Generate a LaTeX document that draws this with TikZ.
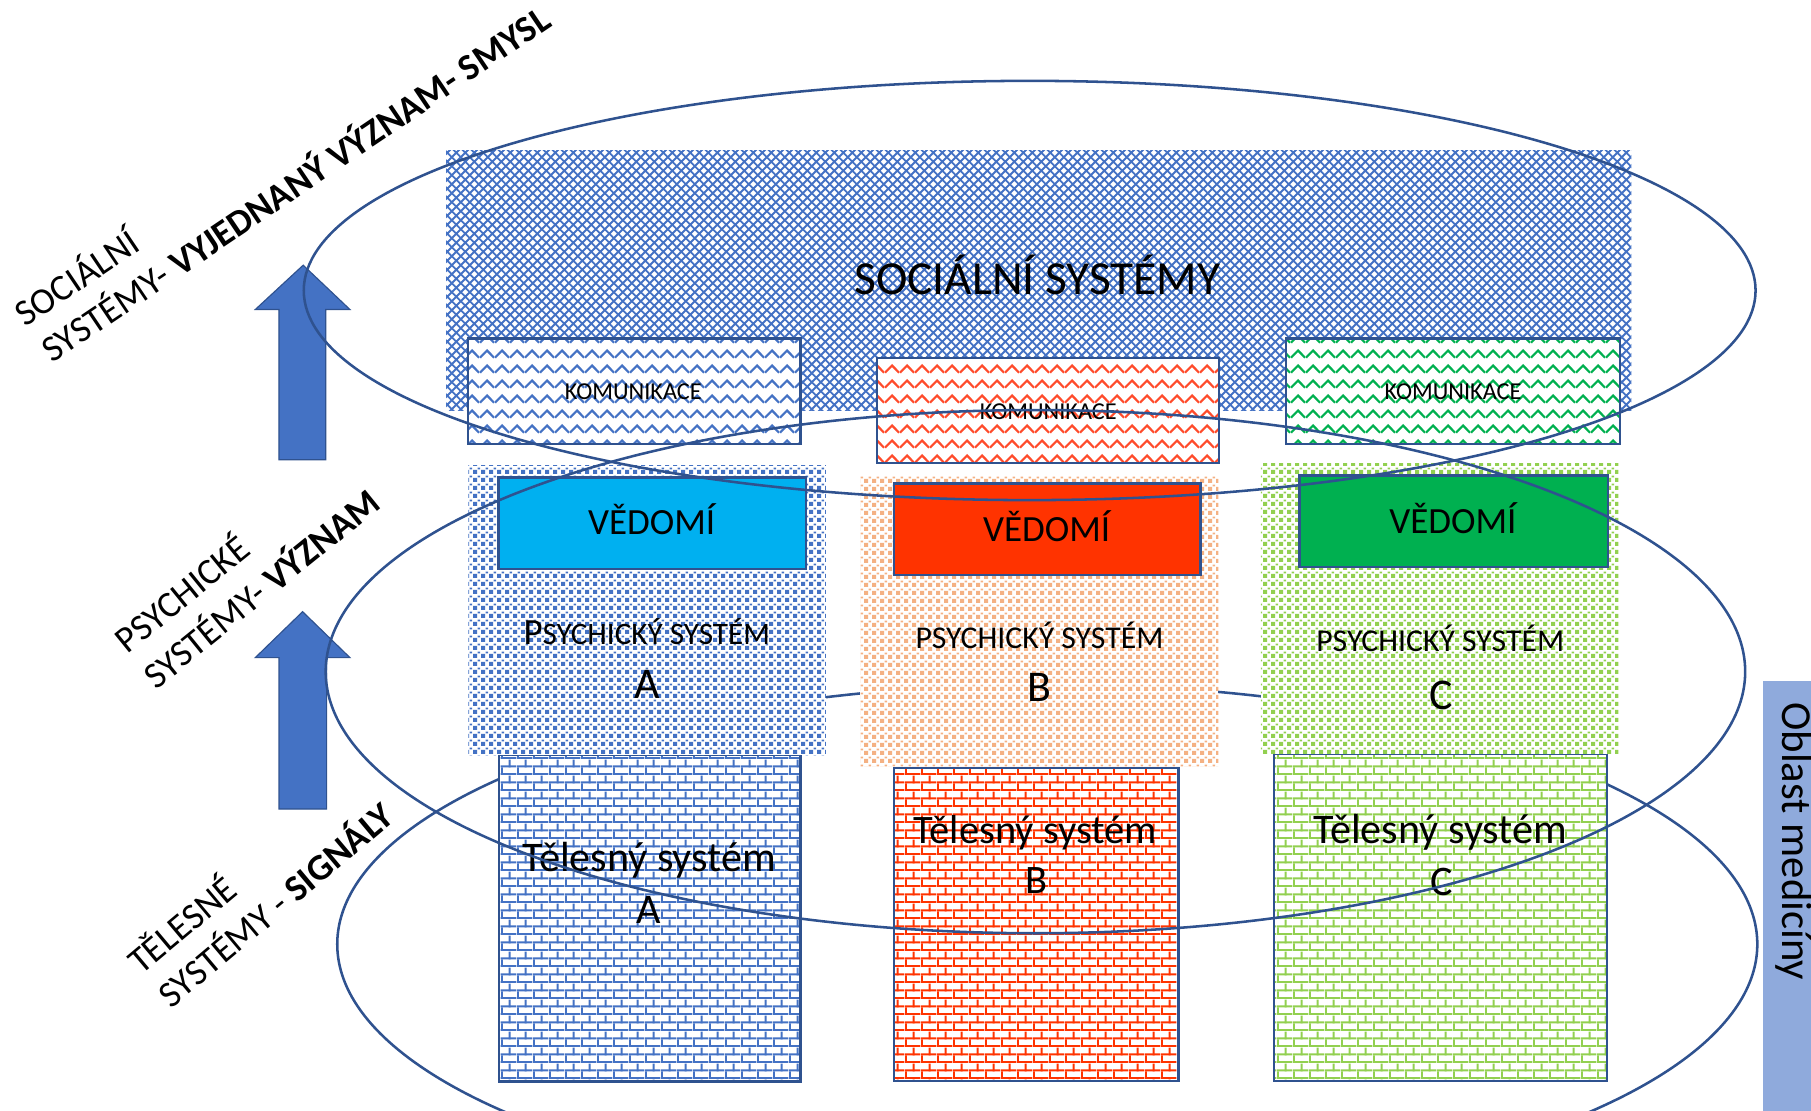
\documentclass[tikz,border=0pt]{standalone}
\usepackage{fontspec}
\setmainfont{Carlito}
\usetikzlibrary{patterns,patterns.meta,shapes.geometric}
\definecolor{bl}{HTML}{4472C4}
\definecolor{ol}{HTML}{2F528F}
\definecolor{cy}{HTML}{00B0F0}
\definecolor{rd}{HTML}{FF3300}
\definecolor{gr}{HTML}{00B050}
\definecolor{lg}{HTML}{92D050}
\definecolor{sa}{HTML}{F4B183}
\definecolor{ob}{HTML}{8FAADC}
\definecolor{zr}{HTML}{FF4B2B}
\newcommand{\fsz}[1]{\fontsize{#1}{#1}\selectfont}

\tikzdeclarepattern{
  name=zz, type=uncolored,
  bottom left={(0pt,0pt)}, top right={(13pt,13pt)},
  tile size={(13pt,13pt)},
  code={\tikzset{x=1pt,y=1pt}
    \draw[line width=2pt] (0,3) -- (6.5,9.6) -- (13,3);}
}
\tikzdeclarepattern{
  name=dia, type=uncolored,
  bottom left={(0pt,0pt)}, top right={(8pt,8pt)},
  tile size={(8pt,8pt)},
  code={\tikzset{x=1pt,y=1pt}
    \draw[line width=1.7pt] (-1,-1) -- (9,9) (-1,9) -- (9,-1);}
}
\tikzdeclarepattern{
  name=sq, type=uncolored,
  bottom left={(0pt,0pt)}, top right={(7.2pt,7.2pt)},
  tile size={(7.2pt,7.2pt)},
  code={\tikzset{x=1pt,y=1pt}
    \fill (0,0) rectangle (3.8,3.8);
    \fill (4.4,4.4) rectangle (6.6,6.0);}
}
\tikzdeclarepattern{
  name=brk, type=uncolored,
  bottom left={(0pt,0pt)}, top right={(14pt,14pt)},
  tile size={(14pt,14pt)},
  code={\tikzset{x=1pt,y=1pt}
    \fill (0,0) rectangle (14,1.8);
    \fill (0,7) rectangle (14,8.8);
    \fill (0,0) rectangle (1.8,7);
    \fill (7,7) rectangle (8.8,14);}
}

\begin{document}
\begin{tikzpicture}[x=1pt,y=-1pt,
  box/.style={inner sep=0pt, outer sep=0pt, anchor=north west},
  outl/.style={draw=ol, line width=2pt},
  kom/.style={box, outl, preaction={fill=white}, pattern=zz},
  psy/.style={box, preaction={fill=white}, pattern=sq},
  tel/.style={box, outl, preaction={fill=white}, pattern=brk},
  ved/.style={box, outl},
  ell/.style={ellipse, draw=ol, line width=2.2pt, inner sep=0pt, outer sep=0pt},
  bigarrow/.style={fill=bl, draw=ol, line width=1pt},
  lbl/.style={anchor=base, inner sep=0pt, text=black},
  side/.style={anchor=base west, inner sep=0pt, font=\fsz{32}},
]
\useasboundingbox (0,0) rectangle (1568,961.9);
\clip (0,0) rectangle (1568,961.9);

% bodily ellipse (behind the boxes)
\node[ell, minimum width=1229.5pt, minimum height=450pt] (eBody) at (906.75,817.5) {};

% social systems
\node[box, pattern=dia, pattern color=bl,
      minimum width=1026.2pt, minimum height=225.1pt] (soc) at (386.3,129.9) {};

% communication boxes
\node[kom, pattern color=bl, minimum width=288pt, minimum height=91.7pt] (komA) at (405,293) {};
\node[kom, pattern color=zr, minimum width=295.8pt, minimum height=90.9pt] (komB) at (759.6,310.2) {};
\node[kom, pattern color=gr, minimum width=289.6pt, minimum height=91.7pt] (komC) at (1113.3,293) {};

% bodily systems
\node[tel, pattern color=bl, minimum width=261.4pt, minimum height=282.8pt] (telA) at (431.8,653.7) {};
\node[tel, pattern color=rd, minimum width=246.3pt, minimum height=270.8pt] (telB) at (774,665.2) {};
\node[tel, pattern color=lg, minimum width=288.1pt, minimum height=283.2pt] (telC) at (1103.3,652.8) {};

% psychic systems
\node[psy, pattern color=bl, minimum width=309.5pt, minimum height=251.1pt] (psyA) at (405.5,402.6) {};
\node[psy, pattern color=sa, minimum width=310.2pt, minimum height=251.1pt] (psyB) at (744.6,412.7) {};
\node[psy, pattern color=lg, minimum width=309.7pt, minimum height=251.7pt] (psyC) at (1091.6,401.1) {};

% consciousness boxes
\node[ved, fill=cy, minimum width=266.5pt, minimum height=79.3pt] (vedA) at (431.5,413.3) {};
\node[ved, fill=rd, minimum width=265.2pt, minimum height=79.3pt] (vedB) at (774.3,418.5) {};
\node[ved, fill=gr, minimum width=267pt, minimum height=79.4pt] (vedC) at (1125,411.8) {};

% medicine area
\node[box, fill=ob, minimum width=80pt, minimum height=420pt] (obl) at (1526.5,590) {};
\node[anchor=base west, rotate=-90, inner sep=0pt, font=\fsz{37}] (oblT) at (1543,608) {Oblast medicíny};

% big arrows
\draw[bigarrow] (241.5,398) -- (241.5,268) -- (221,268) -- (262.5,229.6) -- (303,268) -- (282,268) -- (282,398) -- cycle;
\draw[bigarrow] (241.6,700.5) -- (241.6,569.4) -- (221,569.4) -- (262,529.6) -- (303,569.4) -- (282.8,569.4) -- (282.8,700.5) -- cycle;

% texts
\node[lbl, font=\fsz{41}] (socT) at (898.3,255.4) {SOCIÁLNÍ SYSTÉMY};
\node[lbl, font=\fsz{21}] (komAT) at (548.3,346.3) {KOMUNIKACE};
\node[lbl, font=\fsz{21}] (komBT) at (907.6,363.6) {KOMUNIKACE};
\node[lbl, font=\fsz{21}] (komCT) at (1258,346.3) {KOMUNIKACE};
\node[lbl, font=\fsz{32}] (vedAT) at (564.2,463.2) {VĚDOMÍ};
\node[lbl, font=\fsz{32}] (vedBT) at (906.2,469) {VĚDOMÍ};
\node[lbl, font=\fsz{32}] (vedCT) at (1258,461.8) {VĚDOMÍ};
\node[lbl, font=\fsz{27}] (psyAT) at (560,558.4) {{\fsz{32}P}SYCHICKÝ SYSTÉM};
\node[lbl, font=\fsz{27.5}] (psyBT) at (900,561.3) {PSYCHICKÝ SYSTÉM};
\node[lbl, font=\fsz{27.5}] (psyCT) at (1247,564.2) {PSYCHICKÝ SYSTÉM};
\node[lbl, font=\fsz{38}] (psyAL) at (560,604.6) {A};
\node[lbl, font=\fsz{38}] (psyBL) at (899.6,607.5) {B};
\node[lbl, font=\fsz{38}] (psyCL) at (1248,614.7) {C};
\node[lbl, font=\fsz{36.5}] (telAT) at (562,754.7) {Tělesný systém};
\node[lbl, font=\fsz{36.5}] (telAL) at (562,799.4) {A};
\node[lbl, font=\fsz{35}] (telBT) at (896.4,730) {Tělesný systém};
\node[lbl, font=\fsz{35}] (telBL) at (897,774) {B};
\node[lbl, font=\fsz{36.5}] (telCT) at (1247,730) {Tělesný systém};
\node[lbl, font=\fsz{36.5}] (telCL) at (1248,775) {C};

% side labels
\node[side, rotate=34] (s1a) at (22,284) {SOCIÁLNÍ};
\node[side, rotate=34] (s1b) at (45,315) {SYSTÉMY- \textbf{VYJEDNANÝ VÝZNAM- SMYSL}};
\node[side, rotate=39] (s2a) at (110,567) {PSYCHICKÉ};
\node[side, rotate=39] (s2b) at (135,598) {SYSTÉMY- \textbf{VÝZNAM}};
\node[side, rotate=40] (s3a) at (122,845) {TĚLESNÉ};
\node[side, rotate=40] (s3b) at (148,874) {SYSTÉMY - \textbf{SIGNÁLY}};

% social and psychic ellipses (on top)
\node[ell, minimum width=1257pt, minimum height=363pt] (eTop) at (891.5,251.5) {};
\node[ell, minimum width=1229pt, minimum height=453pt] (eMid) at (896.5,581.5) {};
\end{tikzpicture}
\end{document}
